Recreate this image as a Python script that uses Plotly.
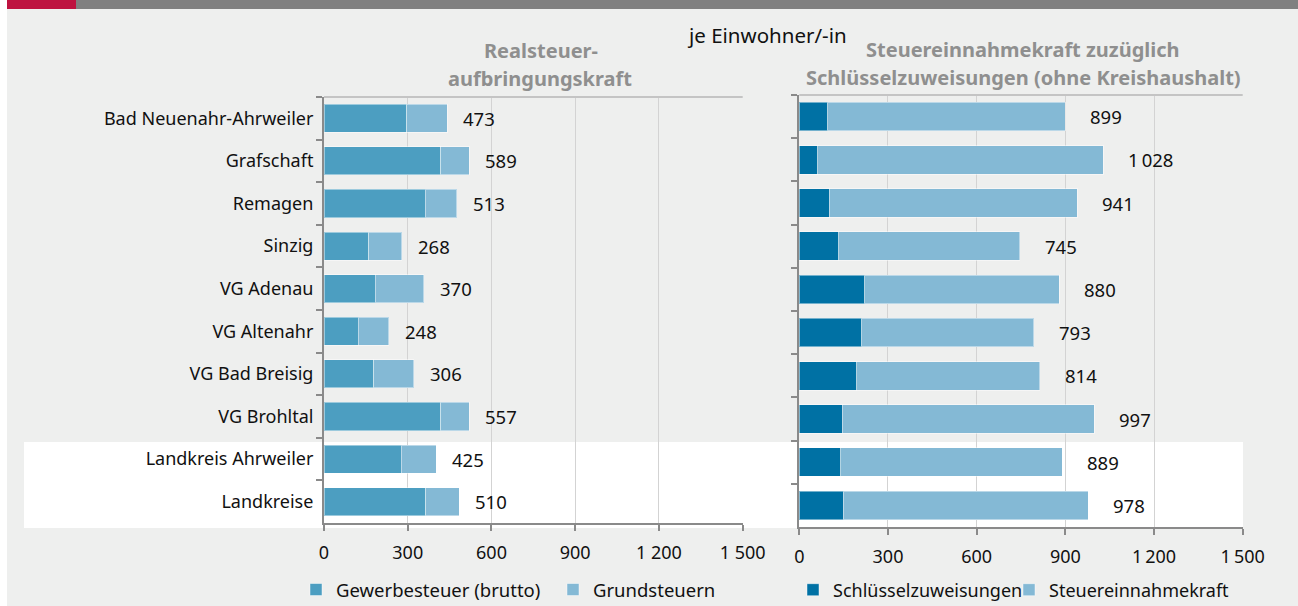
import plotly.graph_objects as go

W, H = 1298, 606

categories = ["Bad Neuenahr-Ahrweiler", "Grafschaft", "Remagen", "Sinzig", "VG Adenau",
              "VG Altenahr", "VG Bad Breisig", "VG Brohltal", "Landkreis Ahrweiler", "Landkreise"]

# Left panel: Realsteueraufbringungskraft
gewerbesteuer = [297, 419, 362, 161, 184, 123, 179, 419, 276, 365]
grundsteuern = [145, 101, 113, 118, 174, 109, 143, 101, 126, 120]
left_labels = [473, 589, 513, 268, 370, 248, 306, 557, 425, 510]

# Right panel: Steuereinnahmekraft + Schlüsselzuweisungen
schluessel = [97, 62, 101, 134, 221, 212, 195, 145, 140, 148]
steuerkraft = [802, 966, 840, 611, 659, 581, 619, 852, 749, 830]
right_labels = [899, 1028, 941, 745, 880, 793, 814, 997, 889, 978]

tick_vals = [0, 300, 600, 900, 1200, 1500]
tick_text_left = ["0", "300", "600", "900", "1 200", "1 500"]
tick_text_right = ["0", "300", "600", "900", "1\u2009200", "1\u2009500"]

FONT = "Noto Sans"
C_GEW = "#4c9ec1"
C_GRUND = "#84b9d5"
C_SCHL = "#0071a4"
C_STEU = "#84b9d5"
BG = "#eeefee"
GRID = "#d3d3d3"
AXIS = "#8a8a8a"

def fmt(v):
    return f"{v:,}".replace(",", "\u2009")

fig = go.Figure()
bar_line = dict(color="rgba(255,255,255,0.45)", width=1)
fig.add_trace(go.Bar(y=categories, x=gewerbesteuer, orientation="h", name="Gewerbesteuer (brutto)",
                     marker=dict(color=C_GEW, line=bar_line), xaxis="x", yaxis="y", legend="legend"))
fig.add_trace(go.Bar(y=categories, x=grundsteuern, orientation="h", name="Grundsteuern",
                     marker=dict(color=C_GRUND, line=bar_line), xaxis="x", yaxis="y", legend="legend",
                     legendwidth=160))
fig.add_trace(go.Bar(y=categories, x=schluessel, orientation="h", name="Schlüsselzuweisungen",
                     marker=dict(color=C_SCHL, line=bar_line), xaxis="x2", yaxis="y2", legend="legend2"))
fig.add_trace(go.Bar(y=categories, x=steuerkraft, orientation="h", name="Steuereinnahmekraft",
                     marker=dict(color=C_STEU, line=bar_line), xaxis="x2", yaxis="y2", legend="legend2",
                     legendwidth=200))

annotations = []
for c, g, gr, lab in zip(categories, gewerbesteuer, grundsteuern, left_labels):
    annotations.append(dict(x=g + gr, y=c, xref="x", yref="y", text=fmt(lab), showarrow=False,
                            xanchor="left", yanchor="middle", xshift=14,
                            font=dict(family=FONT, size=18.5, color="#111111")))
for c, s, st, lab in zip(categories, schluessel, steuerkraft, right_labels):
    annotations.append(dict(x=s + st, y=c, xref="x2", yref="y2", text=fmt(lab), showarrow=False,
                            xanchor="left", yanchor="middle", xshift=23,
                            font=dict(family=FONT, size=18.5, color="#111111")))

def ptext(text, x, y, size=18, color="#111111", bold=False):
    t = f"<b>{text}</b>" if bold else text
    return dict(x=x / W, y=1 - y / H, xref="paper", yref="paper", text=t, showarrow=False,
                xanchor="center", yanchor="middle", font=dict(family=FONT, size=size, color=color))

TITLE_C = "#8f8f8f"
annotations += [
    ptext("je Einwohner/-in", 767, 35, size=20.5),
    ptext("Realsteuer-", 541, 50, size=20, bold=True, color=TITLE_C),
    ptext("aufbringungskraft", 540, 79, size=20, bold=True, color=TITLE_C),
    ptext("Steuereinnahmekraft zuzüglich", 1023, 49, size=20, bold=True, color=TITLE_C),
    ptext("Schlüsselzuweisungen (ohne Kreishaushalt)", 1023, 77, size=20, bold=True, color=TITLE_C),
]

shapes = [
    dict(type="rect", xref="paper", yref="paper", x0=7 / W, x1=1, y0=0, y1=1 - 9 / H,
         fillcolor=BG, line=dict(width=0), layer="below"),
    dict(type="rect", xref="paper", yref="paper", x0=7 / W, x1=76 / W, y0=1 - 9 / H, y1=1,
         fillcolor="#be1340", line=dict(width=0), layer="below"),
    dict(type="rect", xref="paper", yref="paper", x0=76 / W, x1=1, y0=1 - 9 / H, y1=1,
         fillcolor="#808080", line=dict(width=0), layer="below"),
    dict(type="rect", xref="paper", yref="paper", x0=24 / W, x1=1243 / W, y0=1 - 528 / H, y1=1 - 442 / H,
         fillcolor="#ffffff", line=dict(width=0), layer="below"),
    dict(type="line", xref="x domain", yref="y domain", x0=0, x1=1, y0=1, y1=1,
         line=dict(color="#c4c4c4", width=2), layer="above"),
    dict(type="line", xref="x2 domain", yref="y2 domain", x0=0, x1=1, y0=1, y1=1,
         line=dict(color="#c4c4c4", width=2), layer="above"),
]

xax = dict(range=[0, 1500], tickvals=tick_vals, showgrid=True, gridcolor=GRID, gridwidth=1,
           showline=True, linecolor=AXIS, linewidth=2, ticks="outside", ticklen=6, tickwidth=2,
           tickcolor=AXIS, zeroline=False, ticklabelstandoff=6, automargin=False,
           tickfont=dict(family=FONT, size=18, color="#111111"), fixedrange=True)
yax = dict(categoryorder="array", categoryarray=categories, autorange="reversed",
           showline=True, linecolor=AXIS, linewidth=2, ticks="outside", ticklen=6, tickwidth=2,
           tickcolor=AXIS, tickson="boundaries", showgrid=False, zeroline=False, automargin=False,
           ticklabelstandoff=5,
           tickfont=dict(family=FONT, size=18, color="#111111"), fixedrange=True)

fig.update_layout(
    width=W, height=H,
    autosize=False,
    margin=dict(l=0, r=0, t=0, b=0, pad=0, autoexpand=False),
    paper_bgcolor="#ffffff",
    plot_bgcolor="rgba(0,0,0,0)",
    barmode="stack",
    bargap=0.34,
    font=dict(family=FONT, size=18, color="#111111"),
    xaxis=dict(xax, domain=[324 / W, 742.7 / W], anchor="y", ticktext=tick_text_left),
    yaxis=dict(yax, domain=[1 - 523 / H, 1 - 97 / H], anchor="x"),
    xaxis2=dict(xax, domain=[799.3 / W, 1242.7 / W], anchor="y2", ticktext=tick_text_right),
    yaxis2=dict(yax, domain=[1 - 527 / H, 1 - 95 / H], anchor="x2", showticklabels=False),
    legend=dict(orientation="h", x=296 / W, xanchor="left", y=1 - 590 / H, yanchor="middle",
                bgcolor="rgba(0,0,0,0)", font=dict(family=FONT, size=18.5, color="#111111"),
                entrywidth=212, entrywidthmode="pixels", traceorder="normal"),
    legend2=dict(orientation="h", x=793 / W, xanchor="left", y=1 - 590 / H, yanchor="middle",
                 bgcolor="rgba(0,0,0,0)", font=dict(family=FONT, size=18, color="#111111"),
                 entrywidth=171, entrywidthmode="pixels", traceorder="normal"),
    shapes=shapes,
    annotations=annotations,
    showlegend=True,
)

fig.write_html("out.html", config={"displayModeBar": False}, post_script=(
    "document.documentElement.style.margin='0';document.documentElement.style.padding='0';"
    "document.documentElement.style.overflow='hidden';"
    "document.body.style.margin='0';document.body.style.padding='0';document.body.style.overflow='hidden';"
))
